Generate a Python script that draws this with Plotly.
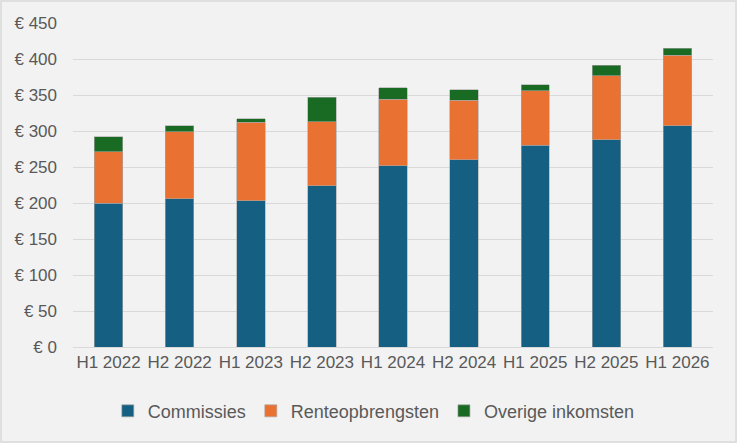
import plotly.graph_objects as go

periods = ["H1 2022", "H2 2022", "H1 2023", "H2 2023", "H1 2024",
           "H2 2024", "H1 2025", "H2 2025", "H1 2026"]
commissies = [200, 206, 203, 224, 252, 260, 280, 288, 307]
renteopbrengsten = [71, 93, 109, 89, 92, 83, 76, 89, 98]
overige_inkomsten = [21, 8, 5, 34, 16, 14, 8, 14, 10]

series = [
    ("Commissies", commissies, "#156082"),
    ("Renteopbrengsten", renteopbrengsten, "#E97132"),
    ("Overige inkomsten", overige_inkomsten, "#196B24"),
]

fig = go.Figure()
for name, values, color in series:
    fig.add_trace(go.Bar(
        x=periods, y=values, name=name,
        marker=dict(color=color, line=dict(color="#a6a6a6", width=0.6)),
    ))

# plot area is 640 x 324 px; thin frame round the whole chart
fig.add_shape(type="rect", xref="paper", yref="paper",
              x0=-72 / 640, x1=1 + 23 / 640, y0=-95 / 324, y1=1 + 22 / 324,
              line=dict(color="#d9d9d9", width=1.5), layer="below")

fig.update_layout(
    barmode="stack",
    bargap=0.6,
    width=737, height=443,
    margin=dict(l=73, r=24, t=23, b=96),
    paper_bgcolor="#f2f2f2",
    plot_bgcolor="#f2f2f2",
    font=dict(family="Liberation Sans, Arial, sans-serif", size=17, color="#595959"),
    legend=dict(orientation="h", x=0.47, xanchor="center", y=-0.198, yanchor="middle",
                font=dict(size=18), traceorder="normal", itemwidth=30,
                tracegroupgap=0),
    xaxis=dict(showline=True, linecolor="#d9d9d9", linewidth=1, ticks="",
               automargin=False),
    yaxis=dict(range=[0, 450], dtick=50, tickprefix="€ ", gridcolor="#d9d9d9",
               gridwidth=1, zeroline=False, ticks="", ticklabelstandoff=15,
               automargin=False),
)

# drop the browser's default page margin so the chart fills the window
fig.write_html("out.html", config={"displayModeBar": False},
               post_script="document.body.style.margin='0';")
